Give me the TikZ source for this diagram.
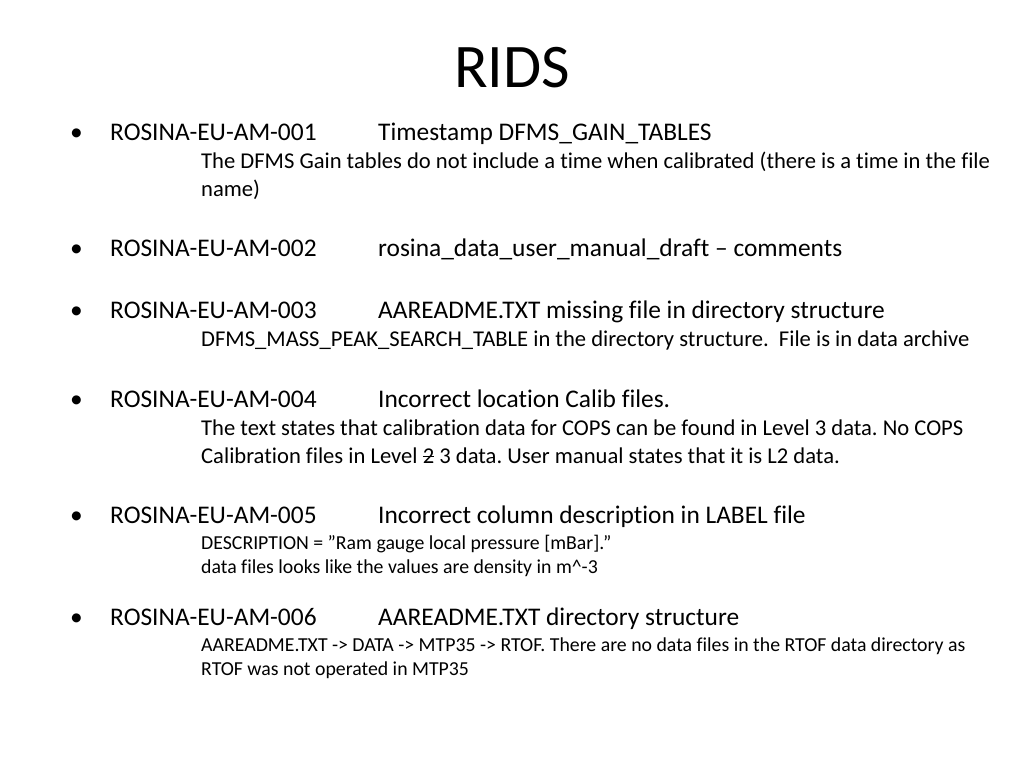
\documentclass[tikz,border=0pt]{standalone}
\usepackage{fontspec}
\setmainfont[Ligatures={TeX,NoCommon}]{Carlito}
\newcommand{\strk}{\rlap{\rule[0.26em]{0.5em}{0.06em}}2}
\begin{document}
\frenchspacing
\begin{tikzpicture}[x=1pt,y=-1pt,
  t/.style={anchor=base west,inner sep=0pt,font=\fontsize{25.4}{30}\selectfont},
  s/.style={anchor=base west,inner sep=0pt,font=\fontsize{22.6}{26}\selectfont},
  ss/.style={anchor=base west,inner sep=0pt,font=\fontsize{19.8}{24}\selectfont}]
\useasboundingbox (0,0) rectangle (1024,768);
\node[anchor=base,inner sep=0pt,font=\fontsize{62}{68}\selectfont] (title) at (512,87) {RIDS};
\foreach \y/\id in {140/001,256/002,318/003,407/004,523/005,625/006}{
  \node[t] (b\id) at (70,\y) {•};
  \node[t] (i\id) at (110,\y) {ROSINA-EU-AM-\id};
}
\node[t] (h1) at (378,140) {Timestamp DFMS\_GAIN\_TABLES};
\node[s] (s1a) at (201,168) {The DFMS Gain tables do not include a time when calibrated (there is a time in the file};
\node[s] (s1b) at (201,196) {name)};
\node[t] (h2) at (378,256) {rosina\_data\_user\_manual\_draft -- comments};
\node[t] (h3) at (378,318) {AAREADME.TXT missing file in directory structure};
\node[s] (s3a) at (201,346) {DFMS\_MASS\_PEAK\_SEARCH\_TABLE in the directory structure.\ \ File is in data archive};
\node[t] (h4) at (378,407) {Incorrect location Calib files.};
\node[s] (s4a) at (201,435) {The text states that calibration data for COPS can be found in Level 3 data. No COPS};
\node[s] (s4b) at (201,463) {Calibration files in Level \strk{} 3 data. User manual states that it is L2 data.};
\node[t] (h5) at (378,523) {Incorrect column description in LABEL file};
\node[ss] (s5a) at (201,549) {DESCRIPTION = \symbol{34}Ram gauge local pressure [mBar].\symbol{34}};
\node[ss] (s5b) at (201,573) {data files looks like the values are density in m\textasciicircum-3};
\node[t] (h6) at (378,625) {AAREADME.TXT directory structure};
\node[ss] (s6a) at (201,651) {AAREADME.TXT -> DATA -> MTP35 -> RTOF. There are no data files in the RTOF data directory as};
\node[ss] (s6b) at (201,675) {RTOF was not operated in MTP35};
\end{tikzpicture}
\end{document}
